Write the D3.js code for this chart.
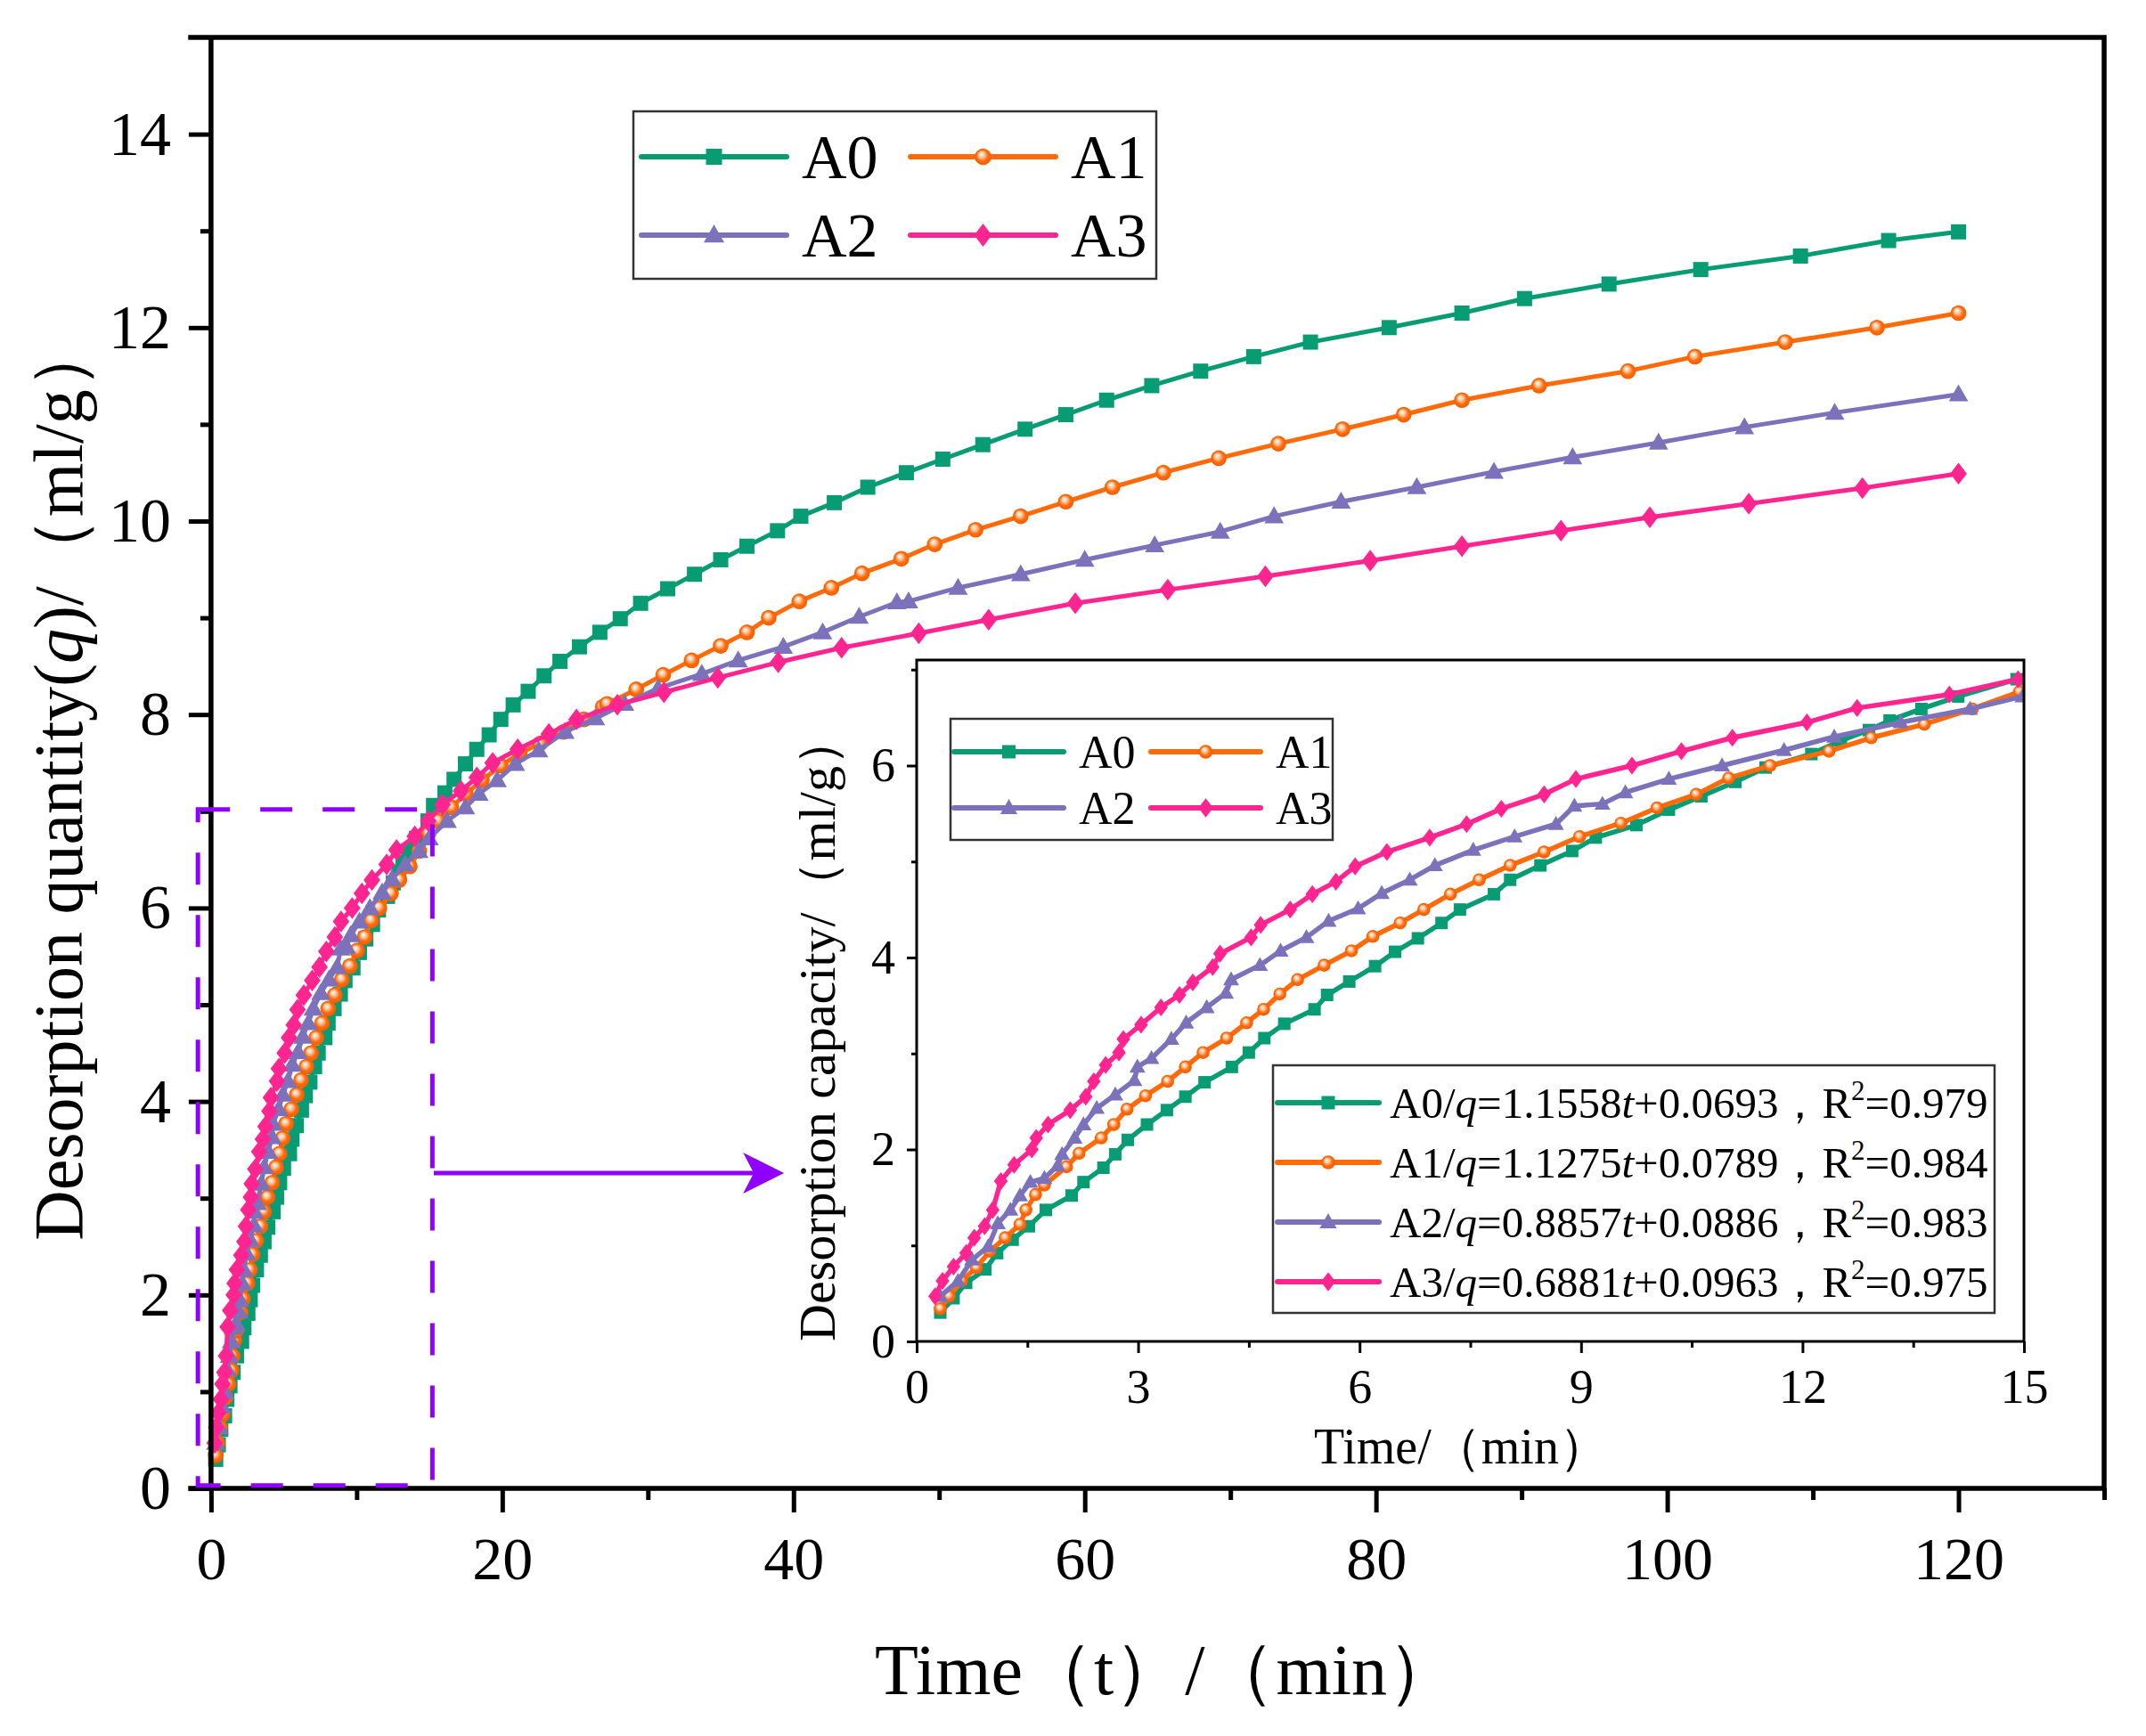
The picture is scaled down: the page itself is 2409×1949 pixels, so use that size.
<!DOCTYPE html>
<html>
<head>
<meta charset="utf-8">
<script src="https://cdn.jsdelivr.net/npm/d3@7"></script>
<style>
  body { margin: 0; background: #fff; }
  svg text { font-family: "Liberation Serif", "Times New Roman", serif; fill: #000; }
</style>
</head>
<body>
<script>
// series names, colours and marker shapes
const seriesNames = ["A0", "A1", "A2", "A3"];
const seriesColors = ["#079C73", "#FF6A0A", "#7B72BB", "#FF2590"];
const seriesShapes = ["square", "circle", "triangle", "diamond"];

// desorption time t (min) and quantity q (ml/g)
const tA0 = [0.32,0.5,0.67,0.93,1.09,1.3,1.52,1.75,2.1,2.26,2.53,2.69,2.86,3.12,3.39,3.64,3.9,4.27,4.5,4.71,4.98,5.39,5.56,5.86,6.21,6.48,6.79,7.11,7.36,7.82,8.04,8.45,8.88,9.2,9.75,10.19,10.63,11.09,11.5,12.12,12.52,12.9,13.18,13.61,14.11,14.9,15.28,16.06,16.69,17.47,18.25,19.1,19.9,20.75,21.78,22.87,23.96,25.3,26.7,28.1,29.5,31.36,33.2,35.0,36.8,38.9,40.5,42.8,45.1,47.75,50.25,53.0,55.9,58.7,61.5,64.6,67.96,71.6,75.5,80.9,85.9,90.2,96.0,102.3,109.15,115.2,120];
const qA0 = [0.3,0.45,0.61,0.75,0.92,1.06,1.2,1.37,1.52,1.66,1.81,1.95,2.1,2.26,2.41,2.55,2.7,2.86,3.01,3.16,3.31,3.46,3.61,3.75,3.91,4.06,4.2,4.36,4.5,4.66,4.81,4.96,5.11,5.25,5.38,5.54,5.68,5.83,5.98,6.12,6.26,6.37,6.47,6.59,6.72,6.9,7.06,7.19,7.33,7.49,7.64,7.79,7.95,8.1,8.24,8.4,8.55,8.7,8.85,8.99,9.15,9.3,9.45,9.6,9.74,9.9,10.05,10.19,10.35,10.5,10.64,10.79,10.95,11.1,11.25,11.4,11.55,11.7,11.85,12.0,12.15,12.3,12.45,12.6,12.74,12.9,12.99];

const tA1 = [0.32,0.44,0.61,0.81,0.99,1.2,1.4,1.48,1.61,1.73,2.03,2.2,2.5,2.67,2.85,3.1,3.4,3.64,3.88,4.2,4.47,4.7,4.92,5.16,5.52,5.89,6.18,6.55,6.87,7.23,7.62,8.04,8.5,8.98,9.54,10.03,10.56,11.0,11.56,12.36,12.93,13.65,14.3,14.94,15.6,16.5,17.5,18.6,19.9,21.2,22.6,24.2,25.6,26.9,27.2,29.2,31.05,33.0,35.0,36.8,38.3,40.4,42.6,44.7,47.4,49.7,52.5,55.6,58.7,61.9,65.4,69.2,73.3,77.7,81.9,85.9,91.2,97.3,101.9,108.1,114.4,120];
const qA1 = [0.34,0.47,0.63,0.77,0.94,1.08,1.22,1.37,1.53,1.63,1.82,1.96,2.12,2.26,2.42,2.56,2.71,2.86,3.01,3.16,3.32,3.46,3.62,3.77,3.92,4.07,4.22,4.36,4.5,4.66,4.81,4.96,5.1,5.26,5.4,5.56,5.7,5.87,6.0,6.15,6.29,6.43,6.59,6.77,6.9,7.04,7.18,7.32,7.47,7.6,7.7,7.82,7.95,8.08,8.11,8.26,8.41,8.56,8.71,8.85,9.0,9.17,9.31,9.46,9.61,9.76,9.91,10.05,10.2,10.35,10.5,10.65,10.8,10.95,11.1,11.25,11.4,11.55,11.7,11.85,12.0,12.15];

const tA2 = [0.32,0.56,0.75,0.97,1.1,1.27,1.4,1.54,1.73,1.91,1.97,2.14,2.26,2.44,2.69,2.95,2.99,3.18,3.45,3.65,3.93,4.19,4.26,4.65,4.93,5.28,5.58,5.98,6.3,6.68,7.02,7.54,8.1,8.66,8.91,9.29,9.6,10.19,10.91,11.75,12.43,13.33,14.27,14.98,16.22,17.47,18.4,19.65,20.9,22.5,24.3,26.4,28.4,30.7,33.7,36.2,39.3,42.0,44.5,47.1,47.9,51.3,55.6,60.0,64.8,69.3,73.0,77.6,82.8,88.1,93.5,99.4,105.3,111.5,120];
const qA2 = [0.47,0.63,0.85,0.99,1.23,1.37,1.52,1.66,1.7,1.83,1.95,2.12,2.26,2.43,2.57,2.72,2.86,2.95,3.15,3.32,3.48,3.63,3.77,3.92,4.07,4.21,4.38,4.51,4.67,4.81,4.96,5.12,5.26,5.39,5.58,5.6,5.72,5.86,6.0,6.16,6.3,6.45,6.59,6.72,6.9,7.04,7.18,7.32,7.49,7.63,7.82,7.96,8.11,8.27,8.42,8.56,8.7,8.85,9.01,9.16,9.17,9.31,9.45,9.6,9.75,9.89,10.05,10.2,10.35,10.51,10.66,10.81,10.97,11.12,11.31];

const tA3 = [0.25,0.35,0.5,0.67,0.78,0.92,1.03,1.14,1.32,1.56,1.62,1.78,2.08,2.29,2.4,2.56,2.74,2.8,3.04,3.31,3.56,3.74,4.01,4.11,4.53,4.66,5.06,5.36,5.68,5.94,6.37,6.95,7.45,7.92,8.5,8.93,9.69,10.36,11.05,12.06,12.74,13.99,14.92,15.9,17.16,18.25,19.34,21.06,23.2,25.1,27.9,31.1,34.8,38.95,43.3,48.6,53.4,59.35,65.7,72.4,79.6,85.9,92.7,98.8,105.6,113.4,120];
const qA3 = [0.47,0.63,0.78,0.92,1.08,1.2,1.37,1.67,1.84,2.0,2.12,2.26,2.41,2.55,2.71,2.88,3.01,3.15,3.3,3.48,3.61,3.74,3.9,4.04,4.21,4.34,4.5,4.66,4.79,4.95,5.1,5.25,5.39,5.55,5.7,5.86,6.0,6.15,6.29,6.45,6.6,6.74,6.9,7.07,7.21,7.35,7.5,7.64,7.8,7.95,8.1,8.23,8.38,8.54,8.69,8.84,8.98,9.15,9.29,9.43,9.59,9.74,9.9,10.04,10.18,10.34,10.49];

// linear fits shown in the inset legend
const fitSlope = [1.1558, 1.1275, 0.8857, 0.6881];
const fitIntercept = [0.0693, 0.0789, 0.0886, 0.0963];
const fitR2 = [0.979, 0.984, 0.983, 0.975];

// tick values
const mainXTicks = [0, 20, 40, 60, 80, 100, 120];
const mainXMinor = [10, 30, 50, 70, 90, 110, 130];
const mainYTicks = [0, 2, 4, 6, 8, 10, 12, 14];
const mainYMinor = [1, 3, 5, 7, 9, 11, 13];
const insetXTicks = [0, 3, 6, 9, 12, 15];
const insetXMinor = [1.5, 4.5, 7.5, 10.5, 13.5];
const insetYTicks = [0, 2, 4, 6];
const insetYMinor = [1, 3, 5, 7];

const tData = [tA0, tA1, tA2, tA3];
const qData = [qA0, qA1, qA2, qA3];
const series = seriesNames.map((name, i) => ({
  name, color: seriesColors[i], shape: seriesShapes[i],
  points: tData[i].map((t, j) => ({t, q: qData[i][j]}))
}));

const W = 2409, H = 1949;
const violet = "#8F00FF";

const svg = d3.select("body").append("svg")
  .attr("width", W).attr("height", H)
  .attr("viewBox", `0 0 ${W} ${H}`);

const defs = svg.append("defs");
// shiny ball for the circle markers
const grad = defs.append("radialGradient").attr("id", "ball")
  .attr("cx", "0.5").attr("cy", "0.5").attr("r", "0.55")
  .attr("fx", "0.38").attr("fy", "0.32");
grad.append("stop").attr("offset", "0").attr("stop-color", "#ffffff");
grad.append("stop").attr("offset", "0.3").attr("stop-color", "#ffc9a0");
grad.append("stop").attr("offset", "0.62").attr("stop-color", seriesColors[1]);
grad.append("stop").attr("offset", "1").attr("stop-color", "#f05a00");

// main scales
const x = d3.scaleLinear().domain([-1.4, 130]).range([214, 2362]);
const y = d3.scaleLinear().domain([0, 15]).range([1671, 42]);

// inset scales
const xi = d3.scaleLinear().domain([0, 15]).range([1029, 2272]);
const yi = d3.scaleLinear().domain([0, 7.1]).range([1506, 741]);

function drawMarker(sel, shape, s, color) {
  if (shape === "circle") {
    sel.append("circle").attr("r", s * 0.52).attr("fill", "url(#ball)");
    return;
  }
  let d;
  if (shape === "square") {
    const h = s / 2;
    d = `M${-h},${-h}H${h}V${h}H${-h}Z`;
  } else if (shape === "triangle") {
    d = `M0,${-0.66 * s}L${0.64 * s},${0.46 * s}L${-0.64 * s},${0.46 * s}Z`;
  } else {
    d = `M0,${-0.72 * s}L${0.55 * s},0L0,${0.72 * s}L${-0.55 * s},0Z`;
  }
  sel.append("path").attr("d", d).attr("fill", color);
}

function drawSeries(g, sx, sy, s, msize, lw) {
  const line = d3.line().x(d => sx(d.t)).y(d => sy(d.q));
  const sg = g.append("g");
  sg.append("path").datum(s.points)
    .attr("d", line).attr("fill", "none")
    .attr("stroke", s.color).attr("stroke-width", lw)
    .attr("stroke-linejoin", "round");
  sg.selectAll("g.m").data(s.points).join("g")
    .attr("class", "m")
    .attr("transform", d => `translate(${sx(d.t)},${sy(d.q)})`)
    .each(function() { drawMarker(d3.select(this), s.shape, msize, s.color); });
}

function styleAxis(g, width, fontSize) {
  g.select(".domain").remove();
  g.selectAll(".tick line").attr("stroke", "#000").attr("stroke-width", width);
  g.selectAll(".tick text").attr("font-size", fontSize)
    .style("font-family", '"Liberation Serif","Times New Roman",serif');
}

// ---------- main plot ----------
const main = svg.append("g");
series.forEach(s => drawSeries(main, x, y, s, 17, 5));

// main axes
const gx = main.append("g").attr("transform", `translate(0,${y(0)})`)
  .call(d3.axisBottom(x).tickValues(mainXTicks).tickSize(27).tickPadding(27).tickFormat(d3.format("d")));
styleAxis(gx, 5, 68);
const gxm = main.append("g").attr("transform", `translate(0,${y(0)})`)
  .call(d3.axisBottom(x).tickValues(mainXMinor).tickSize(13).tickFormat(""));
styleAxis(gxm, 5, 68);

const gy = main.append("g").attr("transform", `translate(${x(0)},0)`)
  .call(d3.axisLeft(y).tickValues(mainYTicks).tickSize(25).tickPadding(20).tickFormat(d3.format("d")));
styleAxis(gy, 5, 70);
const gym = main.append("g").attr("transform", `translate(${x(0)},0)`)
  .call(d3.axisLeft(y).tickValues(mainYMinor).tickSize(12).tickFormat(""));
styleAxis(gym, 5, 70);

// frame
const [x0, x1] = x.range();
const [yb, yt] = y.range();
main.append("path")
  .attr("d", `M${x0},${yt}H${x1}V${yb}H${x0}M${x(0)},${yt}V${yb}`)
  .attr("fill", "none").attr("stroke", "#000").attr("stroke-width", 5.5)
  .attr("stroke-linecap", "square");

// zoom window and arrow
main.append("rect")
  .attr("x", x(-0.9)).attr("y", y(7.02))
  .attr("width", x(15.2) - x(-0.9)).attr("height", y(0.03) - y(7.02))
  .attr("fill", "none").attr("stroke", violet).attr("stroke-width", 5)
  .attr("stroke-dasharray", "36 34");

const ax0 = x(15.3), ax1 = x(39.35), ay = y(3.26);
main.append("line").attr("x1", ax0).attr("x2", ax1 - 30).attr("y1", ay).attr("y2", ay)
  .attr("stroke", violet).attr("stroke-width", 5);
main.append("path")
  .attr("d", `M${ax1},${ay}L${ax1 - 46},${ay - 23}L${ax1 - 34},${ay}L${ax1 - 46},${ay + 23}Z`)
  .attr("fill", violet);

// axis titles
svg.append("text")
  .attr("x", 982).attr("y", 1902).attr("font-size", 80)
  .text("Time（t）/（min）");

const yt1 = svg.append("text")
  .attr("transform", "translate(92,876) rotate(-90)")
  .attr("text-anchor", "middle").attr("font-size", 78);
yt1.append("tspan").text("Desorption quantity(");
yt1.append("tspan").attr("font-style", "italic").text("q");
yt1.append("tspan").text(")/（ml/g）");

// legend with two columns of entries
function legendBlock(g, box, cols, rows, lineLen, msize, fontSize, lw) {
  g.append("rect").attr("x", box[0]).attr("y", box[1])
    .attr("width", box[2] - box[0]).attr("height", box[3] - box[1])
    .attr("fill", "#fff").attr("stroke", "#333").attr("stroke-width", 2.5);
  series.forEach((s, i) => {
    const cx = cols[i % 2], cy = rows[Math.floor(i / 2)];
    const it = g.append("g");
    it.append("line").attr("x1", cx).attr("x2", cx + lineLen).attr("y1", cy).attr("y2", cy)
      .attr("stroke", s.color).attr("stroke-width", lw).attr("stroke-linecap", "round");
    drawMarker(it.append("g").attr("transform", `translate(${cx + lineLen / 2},${cy})`), s.shape, msize, s.color);
    it.append("text").attr("x", cx + lineLen + 17).attr("y", cy + fontSize * 0.34)
      .attr("font-size", fontSize).text(s.name);
  });
}
legendBlock(svg.append("g"), [711, 125, 1298, 313], [720, 1022], [176, 264], 163, 18, 70, 6);

// ---------- inset ----------
const inset = svg.append("g");
inset.append("rect")
  .attr("x", xi(0)).attr("y", yi(7.1))
  .attr("width", xi(15) - xi(0)).attr("height", yi(0) - yi(7.1))
  .attr("fill", "#fff");

defs.append("clipPath").attr("id", "insetClip").append("rect")
  .attr("x", xi(0)).attr("y", yi(7.1) - 10)
  .attr("width", xi(15) - xi(0) + 1).attr("height", yi(0) - yi(7.1) + 10);

const insetData = inset.append("g").attr("clip-path", "url(#insetClip)");
series.forEach(s => drawSeries(insetData,
  xi, yi, {...s, points: s.points.filter(p => p.t <= 15.5)}, 14, 5.5));

const gxi = inset.append("g").attr("transform", `translate(0,${yi(0)})`)
  .call(d3.axisBottom(xi).tickValues(insetXTicks).tickSize(13).tickPadding(18).tickFormat(d3.format("d")));
styleAxis(gxi, 3, 54);
const gxim = inset.append("g").attr("transform", `translate(0,${yi(0)})`)
  .call(d3.axisBottom(xi).tickValues(insetXMinor).tickSize(7).tickFormat(""));
styleAxis(gxim, 3, 54);
const gyi = inset.append("g").attr("transform", `translate(${xi(0)},0)`)
  .call(d3.axisLeft(yi).tickValues(insetYTicks).tickSize(11).tickPadding(13).tickFormat(d3.format("d")));
styleAxis(gyi, 3, 54);
const gyim = inset.append("g").attr("transform", `translate(${xi(0)},0)`)
  .call(d3.axisLeft(yi).tickValues(insetYMinor).tickSize(6).tickFormat(""));
styleAxis(gyim, 3, 54);

inset.append("rect")
  .attr("x", xi(0)).attr("y", yi(7.1))
  .attr("width", xi(15) - xi(0)).attr("height", yi(0) - yi(7.1))
  .attr("fill", "none").attr("stroke", "#000").attr("stroke-width", 3);

inset.append("text").attr("x", 1475).attr("y", 1643).attr("font-size", 56)
  .text("Time/（min）");
inset.append("text")
  .attr("transform", "translate(937,1154) rotate(-90)")
  .attr("text-anchor", "middle").attr("font-size", 58)
  .text("Desorption capacity/（ml/g）");

// inset legends
legendBlock(inset.append("g"), [1067, 807, 1496, 943], [1071, 1292], [844, 907], 123, 15, 52, 6);

const fitG = inset.append("g");
fitG.append("rect").attr("x", 1429).attr("y", 1196).attr("width", 2239 - 1429).attr("height", 1474 - 1196)
  .attr("fill", "#fff").attr("stroke", "#333").attr("stroke-width", 2.5);
const fitRows = [1238, 1305, 1372, 1439];
series.forEach((s, i) => {
  const cy = fitRows[i];
  const it = fitG.append("g");
  it.append("line").attr("x1", 1434).attr("x2", 1548).attr("y1", cy).attr("y2", cy)
    .attr("stroke", s.color).attr("stroke-width", 6).attr("stroke-linecap", "round");
  drawMarker(it.append("g").attr("transform", `translate(1491,${cy})`), s.shape, 15, s.color);
  const tx = it.append("text").attr("x", 1560).attr("y", cy + 17).attr("font-size", 49);
  tx.append("tspan").text(`${s.name}/`);
  tx.append("tspan").attr("font-style", "italic").text("q");
  tx.append("tspan").text(`=${fitSlope[i].toFixed(4)}`);
  tx.append("tspan").attr("font-style", "italic").text("t");
  tx.append("tspan").text(`+${fitIntercept[i].toFixed(4)}，R`);
  tx.append("tspan").attr("font-size", 31).attr("dy", -20).text("2");
  tx.append("tspan").attr("dy", 20).text(`=${fitR2[i].toFixed(3)}`);
});
</script>
</body>
</html>
